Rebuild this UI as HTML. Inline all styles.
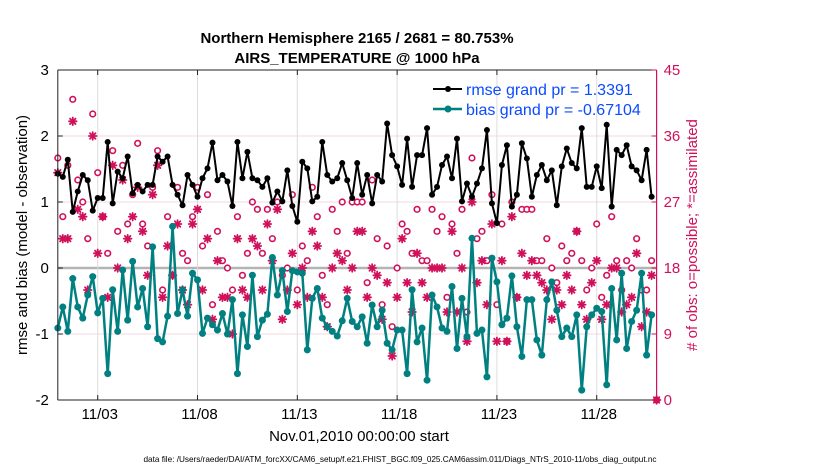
<!DOCTYPE html>
<html><head><meta charset="utf-8"><style>
body{margin:0;background:#fff;}
svg{font-family:"Liberation Sans",Arial,sans-serif;}
</style></head><body>
<svg id="chart" width="830" height="470" viewBox="0 0 830 470" xmlns="http://www.w3.org/2000/svg">
<rect width="830" height="470" fill="#fff"/>
<g id="grid"></g>
<g id="marks"></g>
<g id="axes"></g>
<text x="357" y="43" text-anchor="middle" font-size="15" font-weight="bold">Northern Hemisphere 2165 / 2681 = 80.753%</text>
<text x="357" y="63" text-anchor="middle" font-size="15" font-weight="bold">AIRS_TEMPERATURE @ 1000 hPa</text>
<text transform="translate(27,235) rotate(-90)" text-anchor="middle" font-size="15">rmse and bias (model - observation)</text>
<text transform="translate(697,235) rotate(-90)" text-anchor="middle" font-size="15" fill="#d0105a"># of obs: o=possible; *=assimilated</text>
<text x="359" y="441" text-anchor="middle" font-size="15">Nov.01,2010 00:00:00 start</text>
<text x="400" y="462" text-anchor="middle" font-size="8.2">data file: /Users/raeder/DAI/ATM_forcXX/CAM6_setup/f.e21.FHIST_BGC.f09_025.CAM6assim.011/Diags_NTrS_2010-11/obs_diag_output.nc</text>
<g>
<line x1="433" y1="89" x2="462" y2="89" stroke="#000" stroke-width="2"/>
<circle cx="448" cy="89" r="3" fill="#000"/>
<text x="466" y="95" font-size="16" fill="#0a4bff">rmse grand pr = 1.3391</text>
<line x1="433" y1="109" x2="462" y2="109" stroke="#008080" stroke-width="2.5"/>
<circle cx="448" cy="109" r="3.5" fill="#008080"/>
<text x="466" y="115" font-size="16" fill="#0a4bff">bias grand pr = -0.67104</text>
</g>
</svg>
<script>
const rmse=[1.43,1.38,1.64,0.85,1.16,1.41,1.33,0.87,1.06,1.06,1.91,0.98,1.46,1.36,1.69,1.13,1.26,1.16,1.26,1.26,1.69,1.61,1.69,1.26,1.11,0.95,1.41,1.26,1.08,1.36,1.51,
1.90,1.33,1.41,1.31,0.94,1.91,1.36,1.76,1.36,1.33,1.23,1.36,0.99,1.16,1.01,1.48,0.94,0.70,1.61,1.51,1.01,1.08,1.91,1.41,1.31,1.36,1.59,1.33,1.06,1.59,
1.11,1.41,0.98,1.41,1.31,2.19,1.71,1.54,1.26,1.96,1.23,1.71,1.71,2.12,1.11,1.23,1.56,1.69,1.36,1.96,1.01,1.28,1.08,1.28,1.51,2.09,0.98,0.68,1.56,1.86,
0.93,1.11,1.89,1.66,1.08,1.41,1.56,1.33,1.48,0.95,1.54,1.81,1.59,1.51,2.12,1.23,1.23,1.54,1.21,2.17,0.93,1.79,1.71,1.86,1.54,1.48,1.33,1.79,1.08];
const bias=[-0.91,-0.59,-0.96,-0.16,-0.59,-0.76,-0.41,-0.13,-0.68,-0.46,-1.60,-0.33,-0.96,-0.03,-0.79,0.10,-0.59,-0.31,-0.89,0.32,-1.07,-1.12,-0.73,0.63,-0.69,-0.33,-0.73,-0.08,-0.18,-0.99,-0.76,
-0.86,-0.94,-0.69,-1.00,-0.48,-1.60,-0.71,-1.19,-0.11,-1.04,-0.79,-0.70,0.16,-0.41,-0.04,-0.66,-0.04,-0.06,-0.08,-1.24,-0.46,-0.31,-0.76,-0.89,-0.96,-1.03,-0.80,-0.46,-0.81,-0.89,
-0.74,-1.14,-0.56,-0.89,-0.64,-1.14,-1.24,-0.94,-0.94,-1.60,-0.33,-1.12,-0.91,-1.70,-0.41,-0.59,-0.91,-0.96,-0.28,-1.22,-0.46,-1.04,0.45,-0.99,-0.94,-1.65,0.15,-0.21,-0.86,-0.76,
-0.12,-0.89,-1.34,-0.48,-0.48,-1.09,-1.32,-0.48,-0.21,-0.64,-1.04,-0.91,-1.04,-0.71,-1.85,-0.89,-0.71,-0.61,-0.66,-1.77,-0.31,-1.09,-0.08,-1.22,-0.81,-0.64,-0.08,-1.32,-0.71];
const possible=[33,25,32,41,30,27,22,39,31,25,20,34,23,32,24,28,35,24,21,29,34,15,25,17,29,20,19,25,29,21,28,
13,23,19,18,15,25,17,20,27,26,20,26,22,27,17,18,28,15,21,19,29,25,17,13,26,23,27,20,27,27,
27,16,30,22,13,21,10,18,24,23,20,26,19,19,26,23,25,14,24,20,26,12,33,22,23,19,28,13,24,8,
27,14,26,26,26,19,19,22,18,16,21,19,20,23,19,15,18,24,14,17,25,19,15,19,18,22,15,15,19,0];
const assimilated=[31,22,22,38,26,25,15,36,20,25,14,32,18,30,22,25,29,23,17,28,32,14,21,17,24,15,13,24,26,15,22,
11,19,14,14,9,22,15,14,22,21,15,24,19,26,11,15,20,13,18,14,23,21,14,10,18,20,19,15,18,23,
23,14,18,17,11,16,6,14,22,16,12,20,16,14,18,18,18,12,23,12,18,8,27,16,19,13,24,8,19,8,
25,14,20,17,19,17,16,15,11,15,13,17,15,23,13,11,16,19,11,13,18,18,12,13,14,20,10,12,17,0];
const leftTicks=[3,2,1,0,-1,-2];
const rightTicks=[45,36,27,18,9,0];
const dateTicks=[2,7,12,17,22,27];
const dateLabels=["11/03","11/08","11/13","11/18","11/23","11/28"];

const X0=57.8,X1=656.6,Y0=70,Y1=400,DAYS=30;
const NS="http://www.w3.org/2000/svg";
const xDay=d=>X0+(X1-X0)*d/DAYS;
const xIdx=k=>xDay(k*0.25);
const yL=v=>Y0+(3-v)*(Y1-Y0)/5;
const yR=c=>Y1-c*(Y1-Y0)/45;
function mk(tag,attrs,parent){const e=document.createElementNS(NS,tag);for(const a in attrs)e.setAttribute(a,attrs[a]);parent.appendChild(e);return e;}
const gridG=document.getElementById('grid'),marksG=document.getElementById('marks'),axesG=document.getElementById('axes');

leftTicks.forEach(v=>{
  if(v===3||v===-2)return;
  const l=mk('line',{x1:X0,x2:X1,y1:yL(v),y2:yL(v),stroke:v===0?'#b4b4b4':'#f0d8e2','stroke-width':v===0?2.5:1},gridG);
  
  
});
dateTicks.forEach(d=>{
  const l=mk('line',{x1:xDay(d),x2:xDay(d),y1:Y0,y2:Y1,stroke:'#dcdcdc','stroke-width':1},gridG);
  
  
});

possible.forEach((c,k)=>{
  const e=mk('circle',{cx:xIdx(k),cy:yR(c),r:2.8,fill:'#fff',stroke:'#d0105a','stroke-width':1.6},marksG);
  
  
});
assimilated.forEach((c,k)=>{
  const x=xIdx(k),y=yR(c),s=3.8;
  const g=mk('g',{stroke:'#d0105a','stroke-width':1.8,'stroke-linecap':'round'},marksG);
  
  
  mk('line',{x1:x-s,x2:x+s,y1:y,y2:y},g);
  mk('line',{x1:x,x2:x,y1:y-s,y2:y+s},g);
  mk('line',{x1:x-s*0.72,x2:x+s*0.72,y1:y-s*0.72,y2:y+s*0.72},g);
  mk('line',{x1:x-s*0.72,x2:x+s*0.72,y1:y+s*0.72,y2:y-s*0.72},g);
});
const rp=mk('polyline',{points:rmse.map((v,k)=>xIdx(k)+','+yL(v)).join(' '),fill:'none',stroke:'#000','stroke-width':2,'stroke-linejoin':'round'},marksG);


rmse.forEach((v,k)=>{
  const e=mk('circle',{cx:xIdx(k),cy:yL(v),r:3,fill:'#000'},marksG);
  
  
});
const bp=mk('polyline',{points:bias.map((v,k)=>xIdx(k)+','+yL(v)).join(' '),fill:'none',stroke:'#008080','stroke-width':2.5,'stroke-linejoin':'round'},marksG);


bias.forEach((v,k)=>{
  const e=mk('circle',{cx:xIdx(k),cy:yL(v),r:3.5,fill:'#008080'},marksG);
  
  
});

const topAxis=mk('line',{x1:X0,x2:X1,y1:Y0,y2:Y0,stroke:'#222','stroke-width':1},axesG);


const botAxis=mk('line',{x1:X0,x2:X1,y1:Y1,y2:Y1,stroke:'#222','stroke-width':1},axesG);


const leftAxis=mk('line',{x1:X0,x2:X0,y1:Y0,y2:Y1,stroke:'#222','stroke-width':1},axesG);


const rightAxis=mk('line',{x1:X1,x2:X1,y1:Y0,y2:Y1,stroke:'#d0105a','stroke-width':1.2},axesG);



leftTicks.forEach(v=>{
  mk('line',{x1:X0,x2:X0+5,y1:yL(v),y2:yL(v),stroke:'#222'},axesG);
  const t=mk('text',{x:X0-9,y:yL(v)+5,'text-anchor':'end','font-size':15},axesG);
  t.textContent=String(v);
  
  
});
rightTicks.forEach(c=>{
  mk('line',{x1:X1-5,x2:X1,y1:yR(c),y2:yR(c),stroke:'#d0105a'},axesG);
  const t=mk('text',{x:X1+7,y:yR(c)+5,'font-size':15,fill:'#d0105a'},axesG);
  t.textContent=String(c);
  
  
});
dateTicks.forEach((d,i)=>{
  mk('line',{x1:xDay(d),x2:xDay(d),y1:Y1,y2:Y1-5,stroke:'#222'},axesG);
  mk('line',{x1:xDay(d),x2:xDay(d),y1:Y0,y2:Y0+5,stroke:'#222'},axesG);
  const t=mk('text',{x:xDay(d)+2,y:Y1+19,'text-anchor':'middle','font-size':15},axesG);
  t.textContent=dateLabels[i];
  
  
});
</script>
</body></html>
